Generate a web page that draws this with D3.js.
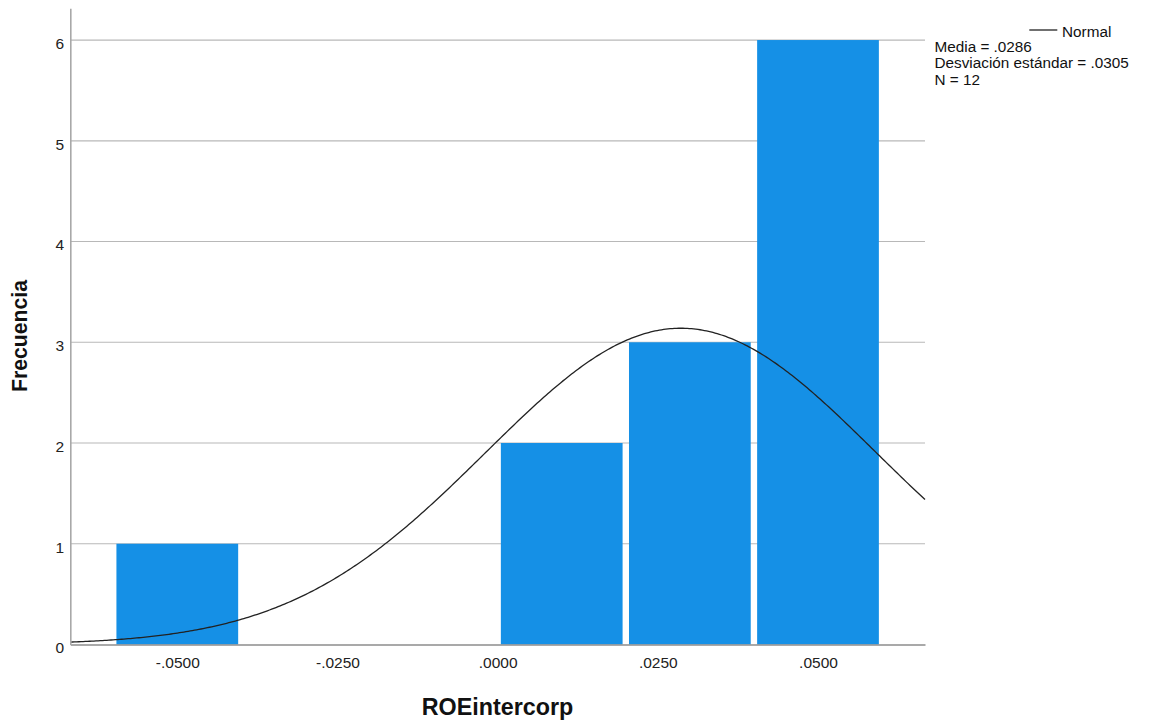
<!DOCTYPE html>
<html>
<head>
<meta charset="utf-8">
<script src="https://cdn.jsdelivr.net/npm/d3@7"></script>
<style>
  body { margin: 0; background: #fff; }
  svg { display: block; font-family: "Liberation Sans", Arial, sans-serif; }
</style>
</head>
<body>
<svg id="chart" width="1150" height="727"></svg>
<script>
// Histogram bins of ROEintercorp (lower edge, upper edge) and their frequencies
const binLower = [-0.06, -0.04, -0.02, 0.00, 0.02, 0.04];
const binUpper = [-0.04, -0.02, 0.00, 0.02, 0.04, 0.06];
const frequencies = [1, 0, 0, 2, 3, 6];

const xTicks = [-0.05, -0.025, 0, 0.025, 0.05];
const yTicks = [0, 1, 2, 3, 4, 5, 6];

// Summary statistics shown in the legend and used for the normal curve
const stats = { mean: 0.0286, sd: 0.0305, n: 12, binWidth: 0.02 };

const svg = d3.select("#chart");
const plotLeft = 70.3, plotRight = 925, plotTop = 8.3, plotBottom = 644.5;

const x = d3.scaleLinear().domain([-0.0667, 0.0667]).range([plotLeft, plotRight]);
const y = d3.scaleLinear().domain([0, 6.315]).range([plotBottom, plotTop]);

// Horizontal grid lines
svg.append("g")
  .selectAll("line")
  .data(yTicks.filter(d => d > 0))
  .join("line")
  .attr("x1", plotLeft).attr("x2", plotRight)
  .attr("y1", d => y(d)).attr("y2", d => y(d))
  .attr("stroke", "#b8b8b8").attr("stroke-width", 1.2);

// Bars (white gap between adjacent bins)
const bins = binLower.map((lo, i) => ({ lo, hi: binUpper[i], f: frequencies[i] }))
  .filter(d => d.f > 0);
svg.append("g")
  .selectAll("rect")
  .data(bins)
  .join("rect")
  .attr("x", d => x(d.lo) + 3.2)
  .attr("width", d => x(d.hi) - x(d.lo) - 6.4)
  .attr("y", d => y(d.f))
  .attr("height", d => y(0) - y(d.f))
  .attr("fill", "#1590e6");

// Normal curve scaled to counts
const pdf = v => stats.n * stats.binWidth / (stats.sd * Math.sqrt(2 * Math.PI)) *
  Math.exp(-0.5 * Math.pow((v - stats.mean) / stats.sd, 2));
const xs = d3.range(400).map(i => x.domain()[0] + i * (x.domain()[1] - x.domain()[0]) / 399);
svg.append("path")
  .datum(xs)
  .attr("d", d3.line().x(v => x(v)).y(v => y(pdf(v))))
  .attr("fill", "none")
  .attr("stroke", "#222")
  .attr("stroke-width", 1.3);

// Axes
const fmtX = v => {
  const s = d3.format(".4f")(Math.abs(v)).replace(/^0/, "");
  return (v < 0 ? "-" : "") + s;
};
const xAxis = svg.append("g")
  .attr("transform", `translate(0,${plotBottom})`)
  .call(d3.axisBottom(x).tickValues(xTicks).tickFormat(fmtX).tickSize(0).tickPadding(12.8));
xAxis.select(".domain").attr("stroke", "#8c8c8c").attr("stroke-width", 1.6);
xAxis.selectAll("text").attr("font-size", 15.5).attr("fill", "#222")
  .attr("font-family", "'Liberation Sans', Arial, sans-serif");

const yAxis = svg.append("g")
  .attr("transform", `translate(${plotLeft},0)`)
  .call(d3.axisLeft(y).tickValues(yTicks).tickFormat(d3.format("d")).tickSize(0).tickPadding(6.3));
yAxis.select(".domain").attr("stroke", "#a8a8a8").attr("stroke-width", 1.6);
yAxis.selectAll("text").attr("font-size", 15.5).attr("fill", "#222").attr("dy", "0.54em")
  .attr("font-family", "'Liberation Sans', Arial, sans-serif");

// Axis titles
svg.append("text")
  .attr("x", 497.5).attr("y", 715)
  .attr("text-anchor", "middle")
  .attr("font-size", 23.3).attr("font-weight", "bold").attr("fill", "#111")
  .text("ROEintercorp");
svg.append("text")
  .attr("transform", "translate(27,336) rotate(-90)")
  .attr("text-anchor", "middle")
  .attr("font-size", 21.2).attr("font-weight", "bold").attr("fill", "#111")
  .text("Frecuencia");

// Legend
const lg = svg.append("g").attr("font-size", 15.3).attr("fill", "#111");
lg.append("line").attr("x1", 1029.3).attr("x2", 1057.3).attr("y1", 30).attr("y2", 30)
  .attr("stroke", "#222").attr("stroke-width", 1.3);
lg.append("text").attr("x", 1062).attr("y", 37.4).text("Normal");
const fmtS = v => d3.format(".4f")(v).replace(/^0/, "");
const lines = [
  `Media = ${fmtS(stats.mean)}`,
  `Desviación estándar = ${fmtS(stats.sd)}`,
  `N = ${stats.n}`
];
lg.selectAll("text.stat").data(lines).join("text")
  .attr("class", "stat")
  .attr("x", 934.5).attr("y", (d, i) => 51.7 + i * 16.7)
  .text(d => d);
</script>
</body>
</html>
